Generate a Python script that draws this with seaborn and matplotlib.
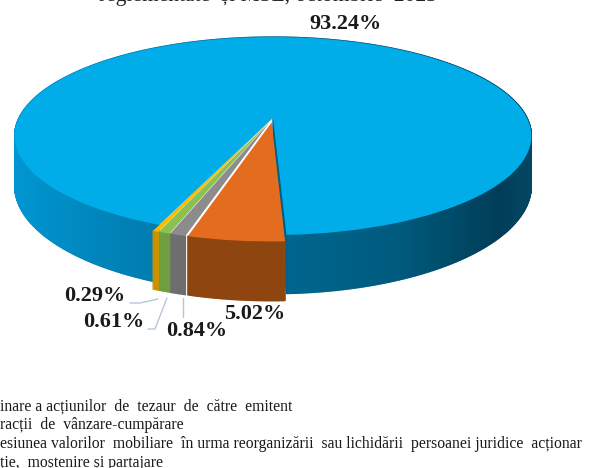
import numpy as np
import matplotlib
matplotlib.use("Agg")
import matplotlib.pyplot as plt
from matplotlib.collections import PolyCollection
from matplotlib.transforms import Transform
import seaborn as sns

# slices, clockwise from the front of the pie
shares = [5.02, 0.84, 0.61, 0.29, 93.24]
share_labels = ["5.02%", "0.84%", "0.61%", "0.29%", "93.24%"]
pulled_out = [0.045, 0.045, 0.045, 0.045, 0.0]
top_colors = ["#E46C1E", "#8C8C8C", "#8CC152", "#FFB900", "#00ADE8"]
side_colors = ["#8E4510", "#6E6E6E", "#6F9E3F", "#C99200", "#0088BE"]
legend_lines = ["inare a acțiunilor  de  tezaur  de  către  emitent",
                "racții  de  vânzare-cumpărare",
                "esiunea valorilor  mobiliare  în urma reorganizării  sau lichidării  persoanei juridice  acționar",
                "ție,  moștenire și partajare"]
title_line = "reglementate  și MSE, octombrie  2023"

CX, CY, RX, RY, TILT, DEPTH = 273, 118, 254, 95.7, 0.182, 48


class Tilt(Transform):
    input_dims = output_dims = 2

    def transform_non_affine(self, values):
        u, v = values[:, 0], values[:, 1]
        w = 1 + TILT * v
        return np.column_stack([CX + RX * u / w, CY - RY * v / w])


def project(u, v, z=0.0):
    w = 1 + TILT * v
    return CX + RX * u / w, CY - RY * v / w + z * DEPTH / w


def blue_shade(x):
    xs = [17, 90, 290, 400, 500, 533]
    rs = [0, 0, 0, 0, 0, 5]
    gs = [150, 135, 102, 90, 62, 72]
    bs = [210, 190, 142, 125, 88, 100]
    return (np.interp(x, xs, rs) / 255, np.interp(x, xs, gs) / 255, np.interp(x, xs, bs) / 255)


sns.set_theme(style="white")
plt.rcParams['font.family'] = ['Liberation Serif', 'DejaVu Serif']

fig = plt.figure(figsize=(6.11, 4.68), dpi=100)
ax = fig.add_axes([0, 0, 1, 1])
wedges, _ = ax.pie(shares, colors=sns.color_palette(top_colors), explode=pulled_out,
                   startangle=-87.5, counterclock=False, radius=1.0,
                   wedgeprops=dict(linewidth=0))
ax.set_aspect("auto")
ax.set_xlim(0, 611)
ax.set_ylim(468, 0)
ax.axis("off")

tilt = Tilt() + ax.transData
for k, wedge in enumerate(wedges):
    wedge.set_transform(tilt)
    wedge.set_zorder(10 + k)
    wedge.set_clip_on(False)

    # outer wall of this slice, in thin strips
    cu, cv = wedge.center
    angles = np.radians(np.linspace(wedge.theta1, wedge.theta2, max(4, int(wedge.theta2 - wedge.theta1) * 2)))
    us = cu + np.cos(angles)
    vs = cv + np.sin(angles)
    quads, shades = [], []
    for i in range(len(angles) - 1):
        x1, y1 = project(us[i], vs[i])
        x2, y2 = project(us[i + 1], vs[i + 1])
        x3, y3 = project(us[i + 1], vs[i + 1], 1)
        x4, y4 = project(us[i], vs[i], 1)
        quads.append([(x1, y1), (x2, y2), (x3, y3), (x4, y4)])
        shades.append(blue_shade((x1 + x2) / 2) if k == 4 else side_colors[k])
    if k == 4:
        # cut face of the big slice, seen beside the pulled out orange one
        x1, y1 = project(cu, cv)
        x2, y2 = project(us[0], vs[0])
        x3, y3 = project(us[0], vs[0], 1)
        x4, y4 = project(cu, cv, 1)
        quads.append([(x1, y1), (x2, y2), (x3, y3), (x4, y4)])
        shades.append("#005F85")
    ax.add_collection(PolyCollection(quads, facecolors=shades, edgecolors=shades, linewidths=1.0, zorder=2 + (k + 1) % 5))

ax.text(346, 24, share_labels[4], fontsize=16, fontweight="bold", color="#1a1a1a", ha="center", va="center", zorder=20)
ax.text(255, 314, share_labels[0], fontsize=16, fontweight="bold", color="#1a1a1a", ha="center", va="center", zorder=20)
ax.text(197, 331, share_labels[1], fontsize=16, fontweight="bold", color="#1a1a1a", ha="center", va="center", zorder=20)
ax.text(114, 322, share_labels[2], fontsize=16, fontweight="bold", color="#1a1a1a", ha="center", va="center", zorder=20)
ax.text(95, 296, share_labels[3], fontsize=16, fontweight="bold", color="#1a1a1a", ha="center", va="center", zorder=20)

leader = dict(color="#B9C6DA", lw=1.0, zorder=9)
ax.plot([183, 183], [317, 298], **leader)
ax.plot([148, 155, 167], [329, 329, 298], **leader)
ax.plot([130, 140, 158], [303, 303, 299], **leader)

ax.text(268, -4, title_line, fontsize=15.5, color="#222222", ha="center", va="center")
for y, line in zip([406, 425, 444, 463], legend_lines):
    ax.text(0, y, line, fontsize=11.3, color="#1a1a1a", ha="left", va="center")

fig.savefig("out.png", dpi=100)
